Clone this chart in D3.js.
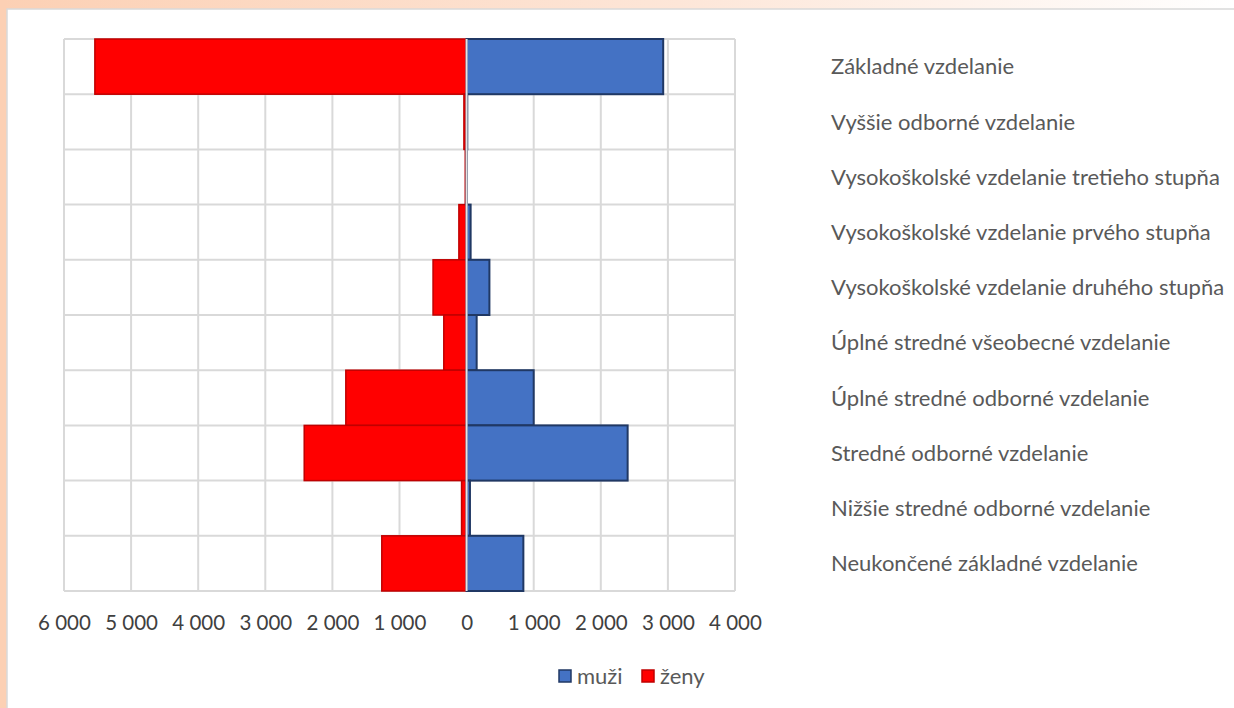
<!DOCTYPE html>
<html><head><meta charset="utf-8">
<script src="https://cdn.jsdelivr.net/npm/d3@7"></script>
<style>body{margin:0;background:#fff}svg{display:block}</style>
</head><body>
<script>
const categories = [
  "Základné vzdelanie",
  "Vyššie odborné vzdelanie",
  "Vysokoškolské vzdelanie tretieho stupňa",
  "Vysokoškolské vzdelanie prvého stupňa",
  "Vysokoškolské vzdelanie druhého stupňa",
  "Úplné stredné všeobecné vzdelanie",
  "Úplné stredné odborné vzdelanie",
  "Stredné odborné vzdelanie",
  "Nižšie stredné odborné vzdelanie",
  "Neukončené základné vzdelanie"
];
const muzi = [2930, 10, 5, 60, 340, 150, 1000, 2400, 50, 846];
const zeny = [5540, 40, 20, 115, 500, 340, 1800, 2420, 75, 1264];
const tickValues = [-6000,-5000,-4000,-3000,-2000,-1000,0,1000,2000,3000,4000];
const seriesNames = ["muži", "ženy"];

const W = 1234, H = 708;
const svg = d3.select("body").append("svg").attr("width", W).attr("height", H);
const font = "Lato, 'Open Sans', sans-serif";

// background decoration
const defs = svg.append("defs");
const lg = defs.append("linearGradient").attr("id","topg").attr("x1","0").attr("x2","1");
lg.append("stop").attr("offset","0").attr("stop-color","#fcd0b4");
lg.append("stop").attr("offset","0.55").attr("stop-color","#fde6d8");
lg.append("stop").attr("offset","1").attr("stop-color","#ffffff");
svg.append("rect").attr("x",0).attr("y",0).attr("width",W).attr("height",9).attr("fill","url(#topg)");
svg.append("rect").attr("x",0).attr("y",0).attr("width",7).attr("height",H).attr("fill","#fcd0b4");
svg.append("rect").attr("x",7).attr("y",9).attr("width",W).attr("height",H)
  .attr("fill","#fff").attr("stroke","#d9d9d9").attr("stroke-width",1.5);

const x = d3.scaleLinear().domain([-6000, 4000]).range([64, 735]);
const y = d3.scaleBand().domain(categories).range([39, 591]).padding(0);

// gridlines
const g = svg.append("g");
g.selectAll("line.v").data(tickValues).join("line")
  .attr("x1", d => x(d)).attr("x2", d => x(d)).attr("y1", 39).attr("y2", 591)
  .attr("stroke", "#d9d9d9").attr("stroke-width", 2);
const hb = categories.map(c => y(c)).concat([y.range()[1]]);
g.selectAll("line.h").data(hb).join("line")
  .attr("x1", x(-6000)).attr("x2", x(4000)).attr("y1", d => d).attr("y2", d => d)
  .attr("stroke", "#d9d9d9").attr("stroke-width", 2);

// bars
svg.append("g").selectAll("rect").data(categories).join("rect")
  .attr("x", (c,i) => x(-zeny[i])).attr("y", c => y(c))
  .attr("width", (c,i) => x(0) - x(-zeny[i])).attr("height", y.bandwidth())
  .attr("fill", "#ff0000").attr("stroke", "#c00000").attr("stroke-width", 1.5);
svg.append("g").selectAll("rect").data(categories).join("rect")
  .attr("x", x(0)).attr("y", c => y(c))
  .attr("width", (c,i) => x(muzi[i]) - x(0)).attr("height", y.bandwidth())
  .attr("fill", "#4472c4").attr("stroke", "#203864").attr("stroke-width", 2);

// zero axis line
svg.append("line").attr("x1", x(0)).attr("x2", x(0)).attr("y1", 39).attr("y2", 591)
  .attr("stroke", "#e3e3e3").attr("stroke-width", 2);

// x axis
const xa = d3.axisBottom(x).tickValues(tickValues).tickSize(0).tickPadding(0)
  .tickFormat(v => Math.abs(v).toLocaleString("en-US").replace(/,/g, " "));
const xg = svg.append("g").attr("transform", "translate(0,630)").call(xa);
xg.select(".domain").remove();
xg.selectAll("text").attr("dy", 0).attr("font-family", font).attr("font-size", 20.5)
  .attr("fill", "#404040");

// category labels
svg.append("g").selectAll("text").data(categories).join("text")
  .attr("x", 831).attr("y", c => y(c) + y.bandwidth()/2).attr("dy", "0.35em")
  .attr("font-family", font).attr("font-size", 22).attr("fill", "#595959")
  .text(c => c);

// legend
const legColors = ["#4472c4", "#ff0000"];
const legStroke = ["#203864", "#c00000"];
const legX = [559, 642];
const lgG = svg.append("g").selectAll("g").data(seriesNames).join("g")
  .attr("transform", (d,i) => `translate(${legX[i]},670)`);
lgG.append("rect").attr("width", 12).attr("height", 12)
  .attr("fill", (d,i) => legColors[i]).attr("stroke", (d,i) => legStroke[i]).attr("stroke-width", 1.5);
lgG.append("text").attr("x", 18).attr("y", 6).attr("dy", "0.35em")
  .attr("font-family", font).attr("font-size", 22).attr("fill", "#595959").text(d => d);
</script>
</body></html>
